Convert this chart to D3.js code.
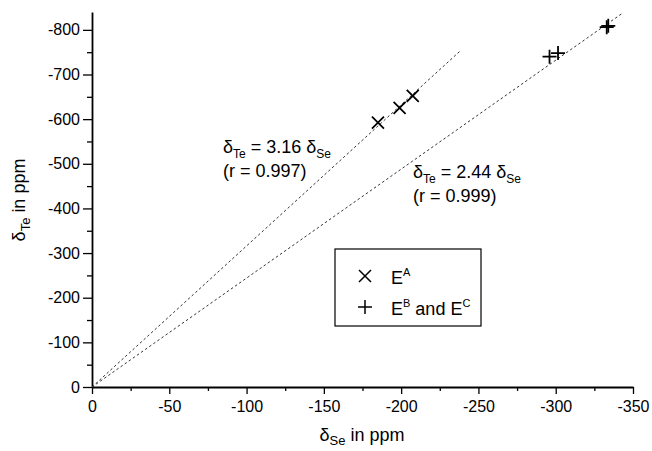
<!DOCTYPE html>
<html>
<head>
<meta charset="utf-8">
<script src="https://cdn.jsdelivr.net/npm/d3@7/dist/d3.min.js"></script>
<style>
  body { margin: 0; background: #fff; }
  text { font-family: Arial, "Liberation Sans", sans-serif; fill: #000; }
</style>
</head>
<body>
<div id="chart"></div>
<script>
// delta Se / delta Te pairs (ppm)
var seriesA = [[-185, -592], [-199, -625], [-207.5, -652]];
var seriesBC = [[-296, -740], [-301.5, -748], [-333, -806], [-334, -809]];
var fits = [
  {slope: 3.16, xEnd: -238, r: "0.997"},
  {slope: 2.44, xEnd: -343, r: "0.999"}
];
var xTicks = [0, -50, -100, -150, -200, -250, -300, -350];
var yTicks = [0, -100, -200, -300, -400, -500, -600, -700, -800];

var W = 652, H = 451;
var margin = {top: 12, right: 19, bottom: 64, left: 92};
var width = W - margin.left - margin.right,
    height = H - margin.top - margin.bottom;

var svg = d3.select("#chart").append("svg")
    .attr("width", W).attr("height", H)
  .append("g")
    .attr("transform", "translate(" + margin.left + "," + margin.top + ")");

var x = d3.scaleLinear().domain([0, -350]).range([0, 541]);
var y = d3.scaleLinear().domain([0, -840]).range([height, 0]);
var fmt = function(d) { return String(d); };

// minor ticks
svg.append("g")
  .attr("transform", "translate(0," + height + ")")
  .call(d3.axisBottom(x).tickValues(d3.range(-25, -350, -50)).tickSize(4).tickFormat(""))
  .call(function(g) { g.select(".domain").remove(); });
svg.append("g")
  .call(d3.axisLeft(y).tickValues(d3.range(-50, -850, -100)).tickSize(5).tickFormat(""))
  .call(function(g) { g.select(".domain").remove(); });

// major axes
svg.append("g")
  .attr("transform", "translate(0," + height + ")")
  .call(d3.axisBottom(x).tickValues(xTicks).tickFormat(fmt).tickSize(7).tickSizeOuter(0).tickPadding(7));
svg.append("g")
  .call(d3.axisLeft(y).tickValues(yTicks).tickFormat(fmt).tickSize(9).tickSizeOuter(0).tickPadding(3));

svg.selectAll(".domain").attr("stroke-width", 1.8);
svg.selectAll(".tick line").attr("stroke-width", 1.3);
svg.selectAll(".tick text").style("font-size", "16px").attr("font-family", "Arial, 'Liberation Sans', sans-serif");

// fit lines
svg.selectAll("line.fit").data(fits).enter().append("line")
  .attr("class", "fit")
  .attr("x1", x(0)).attr("y1", y(0))
  .attr("x2", function(d) { return x(d.xEnd); })
  .attr("y2", function(d) { return y(d.slope * d.xEnd); })
  .attr("stroke", "#333").attr("stroke-width", 1)
  .attr("stroke-dasharray", "2.5,2.5");

// markers
function crossPath(s) {
  return "M" + (-s) + ",0H" + s + "M0," + (-s) + "V" + s;
}
svg.selectAll("path.a").data(seriesA).enter().append("path")
  .attr("class", "a")
  .attr("d", "M-6,-6L6,6M-6,6L6,-6")
  .attr("transform", function(d) { return "translate(" + x(d[0]) + "," + y(d[1]) + ")"; })
  .attr("stroke", "#000").attr("stroke-width", 1.8).attr("fill", "none");
svg.selectAll("path.bc").data(seriesBC).enter().append("path")
  .attr("class", "bc")
  .attr("d", crossPath(7))
  .attr("transform", function(d) { return "translate(" + x(d[0]) + "," + y(d[1]) + ")"; })
  .attr("stroke", "#000").attr("stroke-width", 1.8).attr("fill", "none");

// fit annotations
function eqLabel(g, px, py, slope, r) {
  var t = g.append("text").attr("x", px).attr("y", py).style("font-size", "18px");
  t.append("tspan").text("\u03b4");
  t.append("tspan").attr("dy", 5).style("font-size", "12px").text("Te");
  t.append("tspan").attr("dy", -5).text(" = " + slope.toFixed(2) + " \u03b4");
  t.append("tspan").attr("dy", 5).style("font-size", "12px").text("Se");
  g.append("text").attr("x", px).attr("y", py + 24).style("font-size", "18px")
    .text("(r = " + r + ")");
}
eqLabel(svg, 223 - margin.left, 153 - margin.top, fits[0].slope, fits[0].r);
eqLabel(svg, 413 - margin.left, 178 - margin.top, fits[1].slope, fits[1].r);

// legend
var leg = svg.append("g").attr("transform", "translate(" + (335 - margin.left) + "," + (249 - margin.top) + ")");
leg.append("rect").attr("width", 146).attr("height", 77)
  .attr("fill", "#fff").attr("stroke", "#000").attr("stroke-width", 1.2);
leg.append("path").attr("d", "M-6,-6L6,6M-6,6L6,-6")
  .attr("transform", "translate(30,27)").attr("stroke", "#000").attr("stroke-width", 1.5);
leg.append("path").attr("d", crossPath(7))
  .attr("transform", "translate(30,58)").attr("stroke", "#000").attr("stroke-width", 1.5);
var l1 = leg.append("text").attr("x", 56).attr("y", 35).style("font-size", "18px");
l1.append("tspan").text("E");
l1.append("tspan").attr("dy", -8).style("font-size", "11px").text("A");
var l2 = leg.append("text").attr("x", 56).attr("y", 66).style("font-size", "18px");
l2.append("tspan").text("E");
l2.append("tspan").attr("dy", -8).style("font-size", "11px").text("B");
l2.append("tspan").attr("dy", 8).text(" and E");
l2.append("tspan").attr("dy", -8).style("font-size", "11px").text("C");

// axis titles
var xt = svg.append("text").attr("x", 362 - margin.left).attr("y", 441 - margin.top)
  .attr("text-anchor", "middle").style("font-size", "18px");
xt.append("tspan").text("\u03b4");
xt.append("tspan").attr("dy", 4).style("font-size", "13px").text("Se");
xt.append("tspan").attr("dy", -4).text(" in ppm");

var yt = svg.append("text")
  .attr("transform", "translate(" + (25 - margin.left) + "," + (200 - margin.top) + ") rotate(-90)")
  .attr("text-anchor", "middle").style("font-size", "18px");
yt.append("tspan").text("\u03b4");
yt.append("tspan").attr("dy", 5).style("font-size", "13px").text("Te");
yt.append("tspan").attr("dy", -5).text(" in ppm");
</script>
</body>
</html>
